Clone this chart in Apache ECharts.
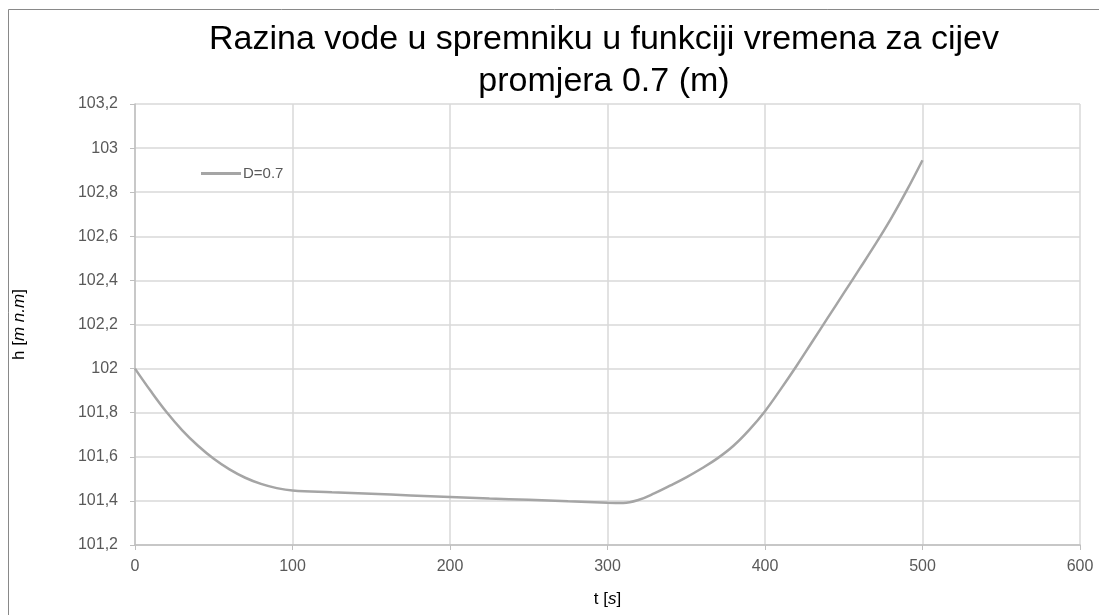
<!DOCTYPE html>
<html>
<head>
<meta charset="utf-8">
<script src="https://cdn.jsdelivr.net/npm/echarts@6/dist/echarts.min.js"></script>
<style>
html,body{margin:0;padding:0;background:#fff;}
#c{width:1099px;height:615px;}
</style>
</head>
<body>
<div id="c"></div>
<script>
const titleText = 'Razina vode u spremniku u funkciji vremena za cijev\npromjera 0.7 (m)';
const seriesName = 'D=0.7';
const tValues = [0,10,20,30,40,50,60,70,80,90,100,125,150,175,200,225,250,275,300,310,320,330,340,350,360,370,380,390,400,410,420,430,440,450,460,470,480,490,500];
const hValues = [102.0,101.898,101.803,101.72,101.65,101.591,101.543,101.505,101.477,101.458,101.447,101.439,101.432,101.425,101.418,101.411,101.405,101.398,101.392,101.391,101.405,101.435,101.47,101.507,101.548,101.594,101.65,101.722,101.807,101.907,102.012,102.122,102.232,102.342,102.452,102.563,102.68,102.808,102.945];
const xTicks = {min:0, max:600, interval:100};
const yTicks = {min:101.2, max:103.2, interval:0.2};

const data = tValues.map((t,i)=>[t,hValues[i]]);
const FONT = '"Liberation Sans", Arial, sans-serif';
const chart = echarts.init(document.getElementById('c'));
chart.setOption({
  animation:false,
  backgroundColor:'#fff',
  graphic:[{type:'rect',shape:{x:8.5,y:9.5,width:1200,height:700},style:{fill:'none',stroke:'#898989',lineWidth:1},silent:true}],
  title:{text:titleText,left:599,textAlign:'center',top:14,
    textStyle:{fontFamily:FONT,fontSize:34,fontWeight:'normal',color:'#000',lineHeight:42}},
  legend:{data:[{name:seriesName,icon:'path://M0,0L40,0L40,3L0,3Z'}],left:196,top:161,itemWidth:40,itemHeight:3,itemGap:5,
    textStyle:{fontFamily:FONT,fontSize:15,color:'#595959',padding:[0,0,0,-3]}},
  grid:{left:135,right:19,top:104,bottom:70},
  xAxis:{type:'value',min:xTicks.min,max:xTicks.max,interval:xTicks.interval,
    name:'t [{i|s}]',nameLocation:'middle',nameGap:46,
    nameTextStyle:{fontFamily:FONT,fontSize:17,color:'#000',rich:{i:{fontStyle:'italic',fontFamily:FONT,fontSize:17,color:'#000'}}},
    axisLine:{show:true,lineStyle:{color:'#bfbfbf',width:1.5}},
    axisTick:{show:true,length:5,lineStyle:{color:'#bfbfbf'}},
    axisLabel:{fontFamily:FONT,fontSize:16,color:'#595959',margin:14},
    splitLine:{show:true,lineStyle:{color:'#d9d9d9',width:1.5}}},
  yAxis:{type:'value',min:yTicks.min,max:yTicks.max,interval:yTicks.interval,
    name:'h [{i|m n.m}]',nameLocation:'middle',nameGap:107,nameRotate:90,
    nameTextStyle:{fontFamily:FONT,fontSize:17,color:'#000',rich:{i:{fontStyle:'italic',fontFamily:FONT,fontSize:17,color:'#000'}}},
    axisLine:{show:true,lineStyle:{color:'#bfbfbf',width:1.5}},
    axisTick:{show:true,length:5,lineStyle:{color:'#bfbfbf'}},
    axisLabel:{fontFamily:FONT,fontSize:16,color:'#595959',margin:17,
      formatter:v=>{const s=(Math.round(v*10)/10).toString();return s.replace('.',',');}},
    splitLine:{show:true,lineStyle:{color:'#d9d9d9',width:1.5}}},
  series:[{name:seriesName,type:'line',data:data,smooth:0.4,showSymbol:false,
    lineStyle:{color:'#a5a5a5',width:2.5},itemStyle:{color:'#a5a5a5'}}]
});
</script>
</body>
</html>
